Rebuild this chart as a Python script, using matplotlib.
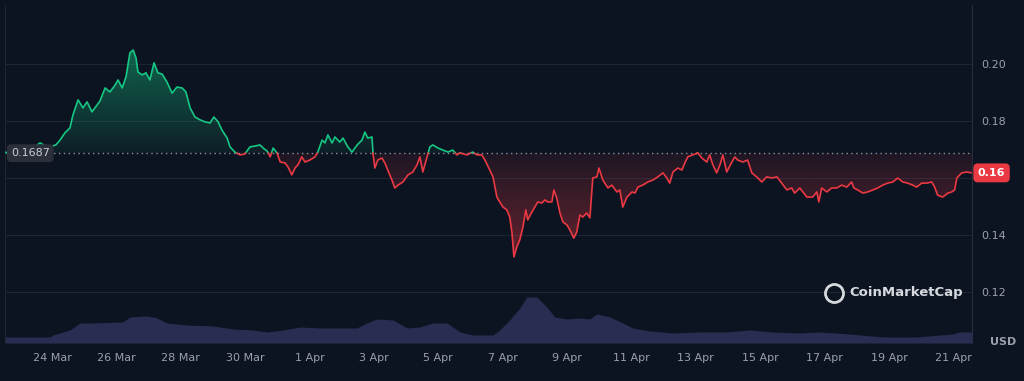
from datetime import datetime

import matplotlib
matplotlib.use("Agg")
import matplotlib.dates as mdates
import matplotlib.pyplot as plt
import numpy as np
from matplotlib.colors import to_rgb
from matplotlib.path import Path
from matplotlib.transforms import blended_transform_factory

# price trace: days since 23 Mar 00:00 and price in USD
days = [-0.45, -0.2, 0.01, 0.32, 0.63, 0.84, 1.0, 1.12, 1.25, 1.40, 1.56, 1.65, 1.81, 1.96, 2.09,
        2.24, 2.40, 2.49, 2.65, 2.80, 2.96, 3.05, 3.18, 3.30, 3.42, 3.52, 3.61, 3.67, 3.80, 3.92,
        4.04, 4.17, 4.29, 4.42, 4.57, 4.73, 4.88, 5.04, 5.16, 5.29, 5.44, 5.60, 5.75, 5.91, 6.03,
        6.16, 6.28, 6.44, 6.53, 6.68, 6.84, 6.99, 7.15, 7.30, 7.46, 7.59, 7.68, 7.78, 7.87, 7.99,
        8.09, 8.24, 8.33, 8.45, 8.55, 8.64, 8.76, 8.86, 9.01, 9.17, 9.26, 9.39, 9.48, 9.57, 9.70,
        9.79, 9.94, 10.04, 10.19, 10.32, 10.48, 10.63, 10.72, 10.81, 10.94, 10.97, 11.03, 11.12,
        11.25, 11.34, 11.43, 11.56, 11.65, 11.75, 11.90, 12.06, 12.21, 12.34, 12.43, 12.52, 12.65,
        12.74, 12.83, 12.99, 13.14, 13.30, 13.45, 13.58, 13.67, 13.89, 14.07, 14.20, 14.35, 14.45,
        14.60, 14.70, 14.82, 14.91, 15.01, 15.13, 15.22, 15.29, 15.35, 15.44, 15.53, 15.63, 15.72,
        15.78, 15.91, 16.00, 16.09, 16.22, 16.31, 16.40, 16.53, 16.59, 16.68, 16.78, 16.87, 17.00,
        17.09, 17.21, 17.30, 17.40, 17.49, 17.61, 17.71, 17.80, 17.93, 17.99, 18.11, 18.27, 18.39,
        18.55, 18.64, 18.73, 18.86, 19.02, 19.11, 19.20, 19.35, 19.51, 19.67, 19.82, 19.98, 20.10,
        20.19, 20.29, 20.44, 20.57, 20.66, 20.75, 20.91, 21.06, 21.19, 21.34, 21.43, 21.53, 21.65,
        21.75, 21.84, 21.96, 22.12, 22.21, 22.30, 22.46, 22.61, 22.74, 22.89, 23.05, 23.20, 23.36,
        23.52, 23.67, 23.83, 23.98, 24.07, 24.23, 24.45, 24.63, 24.76, 24.82, 24.91, 25.07, 25.22,
        25.38, 25.53, 25.69, 25.84, 25.91, 26.03, 26.19, 26.34, 26.50, 26.65, 26.81, 26.96, 27.12,
        27.27, 27.43, 27.58, 27.74, 27.86, 28.02, 28.17, 28.33, 28.42, 28.51, 28.67, 28.83, 28.95,
        29.04, 29.11, 29.26, 29.42, 29.58]
price = [0.1690, 0.1685, 0.1691, 0.1698, 0.1723, 0.1709, 0.1712, 0.1716, 0.1733, 0.1758, 0.1776,
         0.1821, 0.1874, 0.1846, 0.1867, 0.1832, 0.1856, 0.1870, 0.1916, 0.1902, 0.1926, 0.1944,
         0.1916, 0.1955, 0.2039, 0.2049, 0.2021, 0.1972, 0.1962, 0.1969, 0.1944, 0.2004, 0.1969,
         0.1965, 0.1937, 0.1898, 0.1919, 0.1916, 0.1902, 0.1846, 0.1814, 0.1804, 0.1797, 0.1793,
         0.1814, 0.1797, 0.1768, 0.1740, 0.1709, 0.1691, 0.1681, 0.1684, 0.1709, 0.1712, 0.1716,
         0.1702, 0.1695, 0.1674, 0.1705, 0.1688, 0.1656, 0.1653, 0.1639, 0.1611, 0.1635, 0.1646,
         0.1674, 0.1656, 0.1663, 0.1674, 0.1691, 0.1733, 0.1723, 0.1751, 0.1723, 0.1744, 0.1726,
         0.1740, 0.1709, 0.1691, 0.1716, 0.1733, 0.1761, 0.1740, 0.1744, 0.1688, 0.1635, 0.1663,
         0.1670, 0.1653, 0.1628, 0.1593, 0.1565, 0.1575, 0.1586, 0.1611, 0.1621, 0.1646, 0.1674,
         0.1621, 0.1674, 0.1709, 0.1716, 0.1705, 0.1698, 0.1691, 0.1698, 0.1681, 0.1688, 0.1681,
         0.1691, 0.1681, 0.1681, 0.1663, 0.1628, 0.1604, 0.1533, 0.1516, 0.1498, 0.1488, 0.1463,
         0.1407, 0.1323, 0.1358, 0.1382, 0.1428, 0.1488, 0.1453, 0.1481, 0.1498, 0.1516, 0.1512,
         0.1523, 0.1516, 0.1516, 0.1558, 0.1530, 0.1477, 0.1446, 0.1435, 0.1417, 0.1389, 0.1410,
         0.1470, 0.1463, 0.1477, 0.1460, 0.1600, 0.1604, 0.1635, 0.1593, 0.1565, 0.1575, 0.1551,
         0.1558, 0.1498, 0.1533, 0.1551, 0.1547, 0.1568, 0.1575, 0.1586, 0.1593, 0.1604, 0.1618,
         0.1600, 0.1582, 0.1621, 0.1635, 0.1628, 0.1653, 0.1674, 0.1681, 0.1688, 0.1670, 0.1656,
         0.1681, 0.1646, 0.1618, 0.1646, 0.1681, 0.1621, 0.1656, 0.1674, 0.1663, 0.1656, 0.1663,
         0.1618, 0.1604, 0.1586, 0.1604, 0.1600, 0.1604, 0.1582, 0.1558, 0.1565, 0.1547, 0.1565,
         0.1533, 0.1533, 0.1551, 0.1516, 0.1565, 0.1551, 0.1565, 0.1565, 0.1575, 0.1568, 0.1586,
         0.1565, 0.1558, 0.1547, 0.1551, 0.1558, 0.1565, 0.1575, 0.1582, 0.1586, 0.1600, 0.1586,
         0.1582, 0.1575, 0.1568, 0.1582, 0.1582, 0.1586, 0.1568, 0.1540, 0.1533, 0.1547, 0.1551,
         0.1558, 0.1600, 0.1618, 0.1621, 0.1618]
base_price = 0.1687

# volume (millions USD, relative scale)
vol_days = [-0.46, 0.94, 1.03, 1.56, 1.87, 2.27, 3.20, 3.42, 3.95, 4.26, 4.57, 5.19, 6.00, 6.62,
            7.24, 7.68, 8.17, 8.70, 9.32, 10.47, 10.78, 11.09, 11.59, 12.03, 12.43, 12.83, 13.27,
            13.67, 14.07, 14.70, 14.91, 15.22, 15.53, 15.75, 16.06, 16.37, 16.62, 16.99, 17.40,
            17.71, 17.93, 18.33, 18.73, 19.04, 19.57, 20.29, 21.12, 21.96, 22.67, 23.39, 24.23,
            24.85, 25.78, 26.81, 27.86, 28.98, 29.20, 29.57]
volume_m = [6, 6, 8, 13, 20, 20, 21, 26, 27, 25, 20, 18, 17, 14, 13, 11, 13, 16, 15, 15, 20, 24,
            23, 15, 16, 20, 20, 11, 8, 8, 13, 23, 35, 46, 46, 36, 26, 24, 25, 24, 29, 26, 20, 15,
            12, 10, 11, 11, 13, 11, 10, 11, 9, 6, 6, 9, 11, 11]

y_ticks = [0.12, 0.14, 0.16, 0.18, 0.20]

BG = "#0d1421"
GREEN = "#16c784"
RED = "#ea3943"
TXT = "#9aa1ad"
GRID = "#1e2533"

start = mdates.date2num(datetime(2024, 3, 23))
x = start + np.array(days)
p = np.array(price)

# insert crossing points so the line changes colour exactly at the baseline
xs, ps = [x[0]], [p[0]]
for i in range(1, len(x)):
    a, b = p[i - 1] - base_price, p[i] - base_price
    if a * b < 0:
        t = a / (a - b)
        xs.append(x[i - 1] + t * (x[i] - x[i - 1])); ps.append(base_price)
    xs.append(x[i]); ps.append(p[i])
xs, ps = np.array(xs), np.array(ps)

fig = plt.figure(figsize=(10.24, 3.81), dpi=100, facecolor=BG)
rect = [5 / 1024, 38 / 381, 967 / 1024, 338 / 381]
axv = fig.add_axes(rect, facecolor=BG)
ax = fig.add_axes(rect, facecolor="none", sharex=axv)

axv.fill_between(start + np.array(vol_days), volume_m, color="#282e52", lw=0)
axv.set_ylim(0, 338)
axv.axis("off")

ymin, ymax = 0.1021, 0.2207


def gradient_fill(y1, y2, where, color, a_near, a_far, y_near, y_far):
    coll = ax.fill_between(xs, y1, y2, where=where, interpolate=True, color="none", lw=0)
    path = Path.make_compound_path(*coll.get_paths())
    n = 256
    rgba = np.zeros((n, 1, 4))
    rgba[..., :3] = to_rgb(color)
    rgba[:, 0, 3] = np.linspace(a_near, a_far, n)
    im = ax.imshow(rgba, extent=[xs[0], xs[-1], y_near, y_far], origin="lower",
                   aspect="auto", zorder=1, interpolation="bilinear")
    im.set_clip_path(path, transform=ax.transData)


gradient_fill(ps, base_price, ps >= base_price, GREEN, 0.06, 0.45, base_price, 0.205)
gradient_fill(base_price, ps, ps <= base_price, RED, 0.08, 0.40, base_price, 0.132)
ax.set_ylim(ymin, ymax)
ax.set_xlim(start - 0.46, start + 29.58)

ax.plot(xs, np.where(ps >= base_price, ps, np.nan), color=GREEN, lw=1.2, zorder=3)
ax.plot(xs, np.where(ps <= base_price, ps, np.nan), color=RED, lw=1.2, zorder=3)
ax.axhline(base_price, color="#8a909c", lw=1, ls=(0, (1, 2.5)), zorder=2)

for yt in y_ticks:
    ax.axhline(yt, color=GRID, lw=0.8, zorder=0)

for s in ["top", "bottom"]:
    ax.spines[s].set_visible(False)
ax.spines["left"].set_color(GRID)
ax.spines["right"].set_color("#262d3b")

ax.yaxis.tick_right()
ax.set_yticks(y_ticks)
ax.set_yticklabels(["" if abs(v - 0.16) < 1e-9 else f"{v:.2f}" for v in y_ticks])
ax.tick_params(axis="y", length=0, pad=7, labelsize=8, labelcolor=TXT)

tick_dates = [start + d for d in range(1, 30, 2)]
ax.set_xticks(tick_dates)
ax.xaxis.set_major_formatter(plt.FuncFormatter(
    lambda v, _: f"{mdates.num2date(v).day} {mdates.num2date(v):%b}"))
ax.tick_params(axis="x", length=0, pad=7, labelsize=8, labelcolor=TXT)

tr_l = blended_transform_factory(ax.transAxes, ax.transData)
ax.text(0.006, base_price, f"{base_price:.4f}", transform=tr_l, fontsize=8, color="#c8ccd4",
        va="center", ha="left", zorder=5,
        bbox=dict(boxstyle="round,pad=0.35", fc="#2a2f3a", ec="none"))
ax.text(1.006, p[-1], "0.16", transform=tr_l, fontsize=8, color="white", fontweight="bold",
        va="center", ha="left", zorder=5, clip_on=False,
        bbox=dict(boxstyle="round,pad=0.4", fc=RED, ec="none"))

fig.text(0.967, 0.102, "USD", fontsize=8, color=TXT, fontweight="bold", va="center", ha="left")

ax.plot([0.857], [0.148], "o", ms=13, mfc="none", mec="#d6d9de", mew=2, transform=ax.transAxes,
        clip_on=False, zorder=5)
ax.text(0.873, 0.148, "CoinMarketCap", transform=ax.transAxes, fontsize=9.5, color="#d6d9de",
        fontweight="bold", va="center", ha="left", zorder=5)

fig.savefig("out.png", dpi=100, facecolor=BG)
